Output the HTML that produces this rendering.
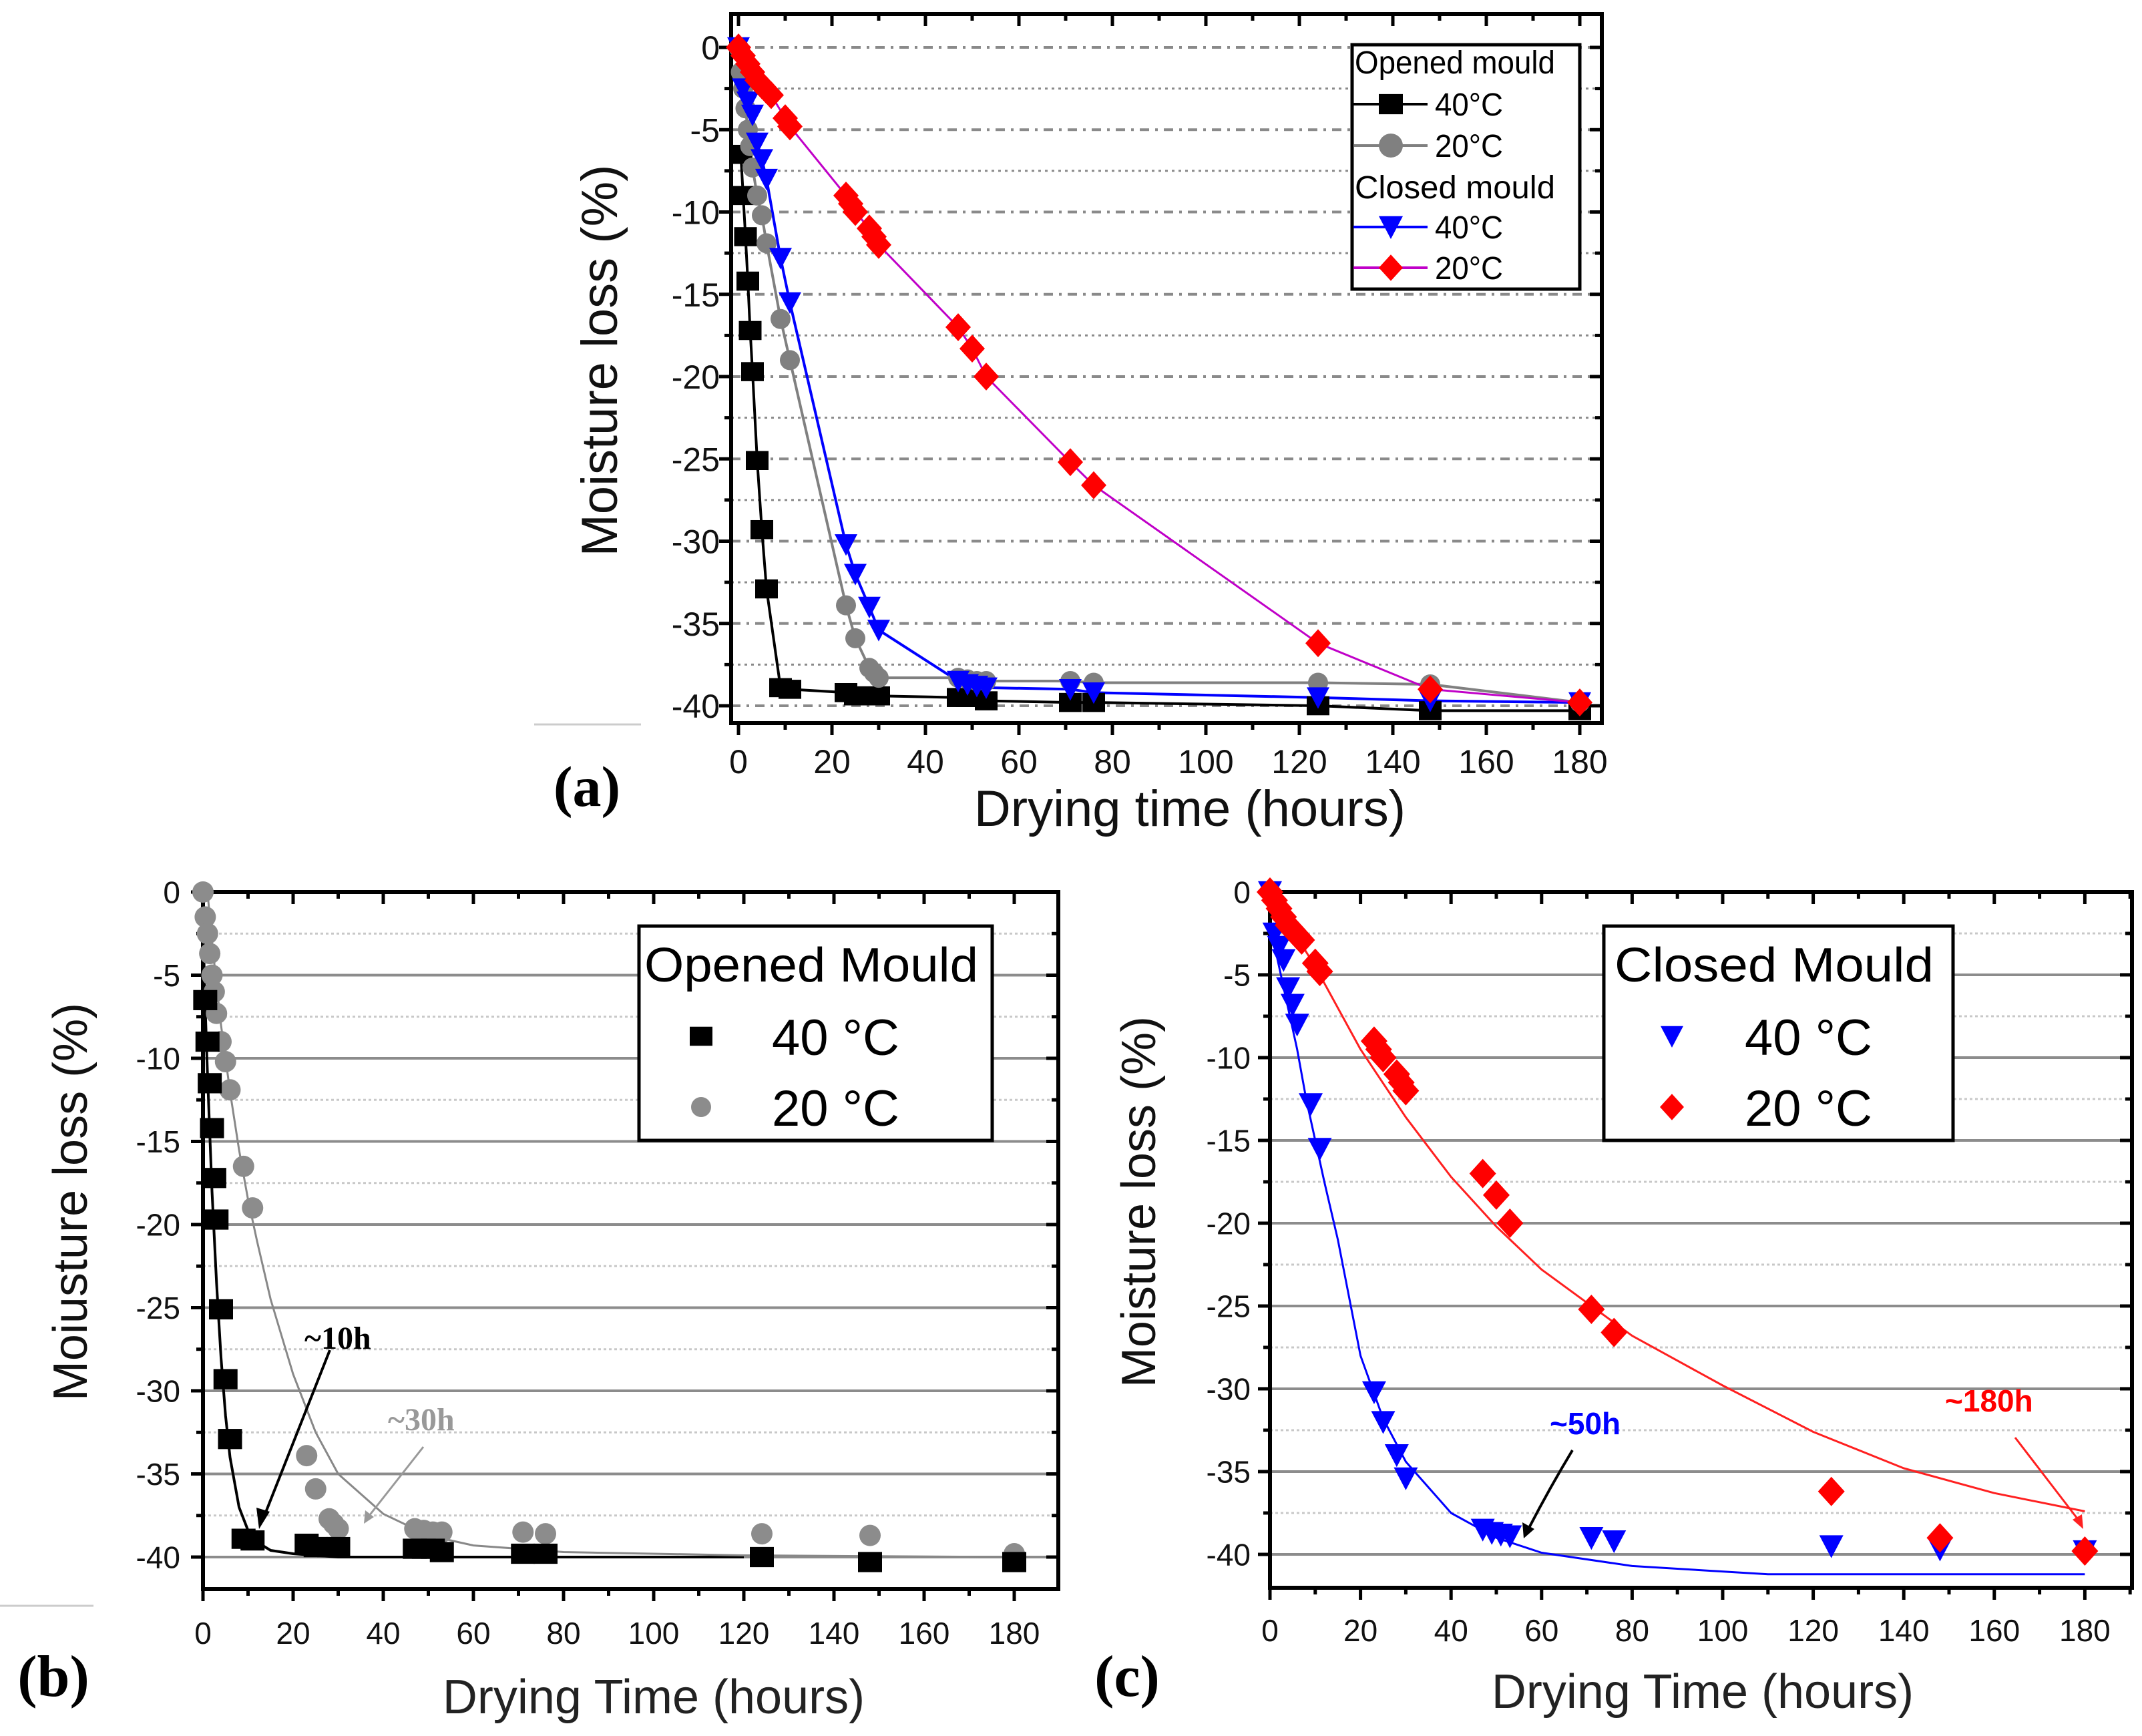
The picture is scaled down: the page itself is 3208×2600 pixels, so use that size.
<!DOCTYPE html>
<html><head><meta charset="utf-8"><style>
html,body{margin:0;padding:0;background:#fff}
svg{display:block}
text{font-family:"Liberation Sans",sans-serif}
text.serif{font-family:"Liberation Serif",serif}
</style></head><body>
<svg id="fig" xmlns="http://www.w3.org/2000/svg" width="3208" height="2600" viewBox="0 0 3208 2600">
<rect width="3208" height="2600" fill="#fff"/>
<g id="layer"></g>
</svg>
<script>
// ---- data ----
const openX40 = [0.5,1,1.5,2,2.5,3,4,5,6,9,11,23,25,28,30,47,49,51,53,71,76,124,148,180];
const openY40 = [-6.5,-9,-11.5,-14.2,-17.2,-19.7,-25.1,-29.3,-32.9,-38.9,-39,-39.2,-39.4,-39.4,-39.4,-39.5,-39.5,-39.5,-39.7,-39.8,-39.8,-40,-40.3,-40.3];
const openX20 = [0,0.5,1,1.5,2,2.5,3,4,5,6,9,11,23,25,28,29,30,47,49,51,53,71,76,124,148,180];
const openY20 = [0,-1.5,-2.5,-3.7,-5,-6,-7.3,-9,-10.2,-11.9,-16.5,-19,-33.9,-35.9,-37.7,-38,-38.3,-38.3,-38.4,-38.5,-38.5,-38.5,-38.6,-38.6,-38.7,-39.8];
const closedX40 = [0,1,2,3,4,5,6,9,11,23,25,28,30,47,49,51,53,71,76,124,148,180];
const closedY40 = [0,-2.5,-3.3,-4.1,-5.8,-6.8,-8,-12.8,-15.5,-30.2,-32,-34,-35.4,-38.5,-38.7,-38.8,-38.9,-39,-39.2,-39.5,-39.7,-39.8];
const closedX20 = [0,1,2,3,4,5,6,7,10,11,23,24,25,28,29,30,47,50,53,71,76,124,148,180];
const closedY20 = [0,-0.5,-1,-1.5,-2,-2.3,-2.6,-2.9,-4.3,-4.8,-9,-9.5,-10,-11,-11.5,-12,-17,-18.3,-20,-25.2,-26.6,-36.2,-39,-39.8];
// fitted curves (b) and (c), sampled from figure
const fitOpen40X = [0,0.5,1,2,3,4,5,6,8,10,12,15,20,30,120];
const fitOpen40Y = [-2,-7,-11,-18,-23.5,-28,-31.5,-34,-37,-38.4,-39.1,-39.6,-39.8,-40,-40];
const fitOpen20X = [1,2,4,6,8,10,12,15,20,25,30,40,50,60,80,120,180];
const fitOpen20Y = [0,-3,-8,-12,-15.5,-18.5,-21,-24.5,-29,-32.5,-35,-37.4,-38.7,-39.3,-39.7,-39.9,-40];
const fitClosed40X = [0,2,4,6,8,10,12,15,20,25,30,40,50,60,80,110,180];
const fitClosed40Y = [-2,-4.5,-7,-9.5,-12.5,-15,-17.5,-21,-28,-31.8,-34.4,-37.5,-39,-39.9,-40.7,-41.2,-41.2];
const fitClosed20X = [0,5,10,20,30,40,50,60,80,100,120,140,160,180];
const fitClosed20Y = [0,-2.3,-4.5,-9.5,-13.6,-17.2,-20.2,-22.8,-26.8,-29.8,-32.6,-34.8,-36.3,-37.4];
const xTicks = [0,20,40,60,80,100,120,140,160,180];
const yTicks = [0,-5,-10,-15,-20,-25,-30,-35,-40];

const NS="http://www.w3.org/2000/svg";
const layer=document.getElementById('layer');
function el(tag,attrs,parent,txt){const e=document.createElementNS(NS,tag);for(const k in attrs)e.setAttribute(k,attrs[k]);if(txt!==undefined)e.textContent=txt;(parent||layer).appendChild(e);return e;}

function makeAxes(p){
  p.sx=v=>p.x0px+v*p.xpx;
  p.sy=v=>p.y0px-v*p.ypx;
  return p;
}
function marker(g,shape,x,y,s,color){
  let m;
  if(shape==='sq') m=el('rect',{x:x-s/2,y:y-s*0.42,width:s,height:s*0.84,fill:color},g);
  else if(shape==='ci') m=el('circle',{cx:x,cy:y,r:s/2,fill:color},g);
  else if(shape==='tri') m=el('polygon',{points:`${x-s/2},${y-s*0.45} ${x+s/2},${y-s*0.45} ${x},${y+s*0.5}`,fill:color},g);
  else m=el('polygon',{points:`${x},${y-s*0.55} ${x+s*0.5},${y} ${x},${y+s*0.55} ${x-s*0.5},${y}`,fill:color},g);
  return m;
}
function series(ax,g,xs,ys,shape,s,color){
  for(let i=0;i<xs.length;i++){
    const m=marker(g,shape,ax.sx(xs[i]),ax.sy(ys[i]),s,color);
    
    
  }
}
function line(ax,g,xs,ys,color,w){
  const pts=xs.map((x,i)=>ax.sx(x).toFixed(1)+','+ax.sy(ys[i]).toFixed(1)).join(' ');
  return el('polyline',{points:pts,fill:'none',stroke:color,'stroke-width':w,'stroke-linejoin':'round'},g);
}
function frame(ax,g,style,ylabX,xlabY,fs){
  const [l,t,r,b]=ax.frame;
  for(let v=0;v>=-42.5;v-=2.5){
    const y=ax.sy(v); if(y<t||y>b) continue;
    const major=(v%5===0);
    let gl;
    if(style==='a') gl=el('line',{x1:l,x2:r,y1:y,y2:y,stroke:'#8a8a8a','stroke-width':major?4:3,'stroke-dasharray':major?'14,9,4,9':'4,6'},g);
    else gl=el('line',{x1:l,x2:r,y1:y,y2:y,stroke:major?'#8c8c8c':'#c8c8c8','stroke-width':major?4:3,'stroke-dasharray':major?'none':'4,4'},g);
    
    
  }
  const f=el('rect',{x:l,y:t,width:r-l,height:b-t,fill:'none',stroke:'#000','stroke-width':6},g);
  
  
  for(let v=0;v<=190;v+=10){
    const x=ax.sx(v); if(x>r) continue;
    const len=v%20===0?18:10;
    el('line',{x1:x,x2:x,y1:b,y2:b+len,stroke:'#000','stroke-width':5},g);
    el('line',{x1:x,x2:x,y1:t,y2:t+len,stroke:'#000','stroke-width':5},g);
  }
  for(let v=0;v>=-42.5;v-=2.5){
    const y=ax.sy(v); if(y<t-1||y>b) continue;
    const len=v%5===0?18:10;
    el('line',{x1:l-len,x2:l,y1:y,y2:y,stroke:'#000','stroke-width':5},g);
    el('line',{x1:r-len,x2:r,y1:y,y2:y,stroke:'#000','stroke-width':5},g);
  }
  xTicks.forEach(v=>{
    const t2=el('text',{x:ax.sx(v),y:xlabY,'font-size':fs,'text-anchor':'middle',fill:'#111'},g,String(v));
    
    
  });
  yTicks.forEach(v=>{
    const t2=el('text',{x:ylabX,y:ax.sy(v)+fs*0.36,'font-size':fs,'text-anchor':'end',fill:'#111'},g,String(v));
    
    
  });
}

// ===== Panel (a) =====
const A=makeAxes({x0px:1106,xpx:7.0,y0px:71,ypx:24.65,frame:[1095,21,2399,1083]});
const ga=el('g',{});


frame(A,ga,'a',1078,1158,50);
line(A,ga,openX40,openY40,'#000',4);
line(A,ga,openX20,openY20,'#808080',4);
line(A,ga,closedX40,closedY40,'#0000ff',4);
line(A,ga,closedX20,closedY20,'#c000c8',3);
series(A,ga,openX40,openY40,'sq',34,'#000');
series(A,ga,openX20,openY20,'ci',30,'#808080');
series(A,ga,closedX40,closedY40,'tri',34,'#0000ff');
series(A,ga,closedX20,closedY20,'dia',38,'#ff0000');
const la=el('g',{});


el('rect',{x:2025,y:67,width:341,height:366,fill:'#fff',stroke:'#000','stroke-width':5},la);
const legA=[['Opened mould',93,null],['40°C',156,['sq','#000','#000']],['20°C',218,['ci','#808080','#808080']],['Closed mould',280,null],['40°C',340,['tri','#0000ff','#0000ff']],['20°C',401,['dia','#ff0000','#c000c8']]];
legA.forEach(r=>{
  if(!r[2]){el('text',{x:2029,y:r[1]+17,'font-size':48,textLength:300,lengthAdjust:'spacingAndGlyphs'},la,r[0]);}
  else{
    el('line',{x1:2027,x2:2138,y1:r[1],y2:r[1],stroke:r[2][2],'stroke-width':4},la);
    marker(la,r[2][0],2083,r[1],36,r[2][1]);
    el('text',{x:2149,y:r[1]+17,'font-size':48,textLength:102,lengthAdjust:'spacingAndGlyphs'},la,r[0]);
  }
});
let t;
t=el('text',{x:924,y:540,'font-size':76,'text-anchor':'middle',transform:'rotate(-90 924 540)',fill:'#111'},ga,'Moisture loss (%)');

t=el('text',{x:1782,y:1237,'font-size':76,'text-anchor':'middle',fill:'#111'},ga,'Drying time (hours)');

t=el('text',{x:879,y:1207,'font-size':86,'font-weight':'bold','text-anchor':'middle',class:'serif'},ga,'(a)');

el('line',{x1:800,x2:960,y1:1085,y2:1085,stroke:'#ccc','stroke-width':3},ga);

// ===== Panel (b) =====
const B=makeAxes({x0px:304,xpx:6.75,y0px:1336,ypx:24.9,frame:[304,1336,1585,2380]});
const gb=el('g',{});


frame(B,gb,'b',270,2462,46);
line(B,gb,fitOpen40X,fitOpen40Y,'#000',4);
line(B,gb,fitOpen20X,fitOpen20Y,'#888',3);
series(B,gb,openX20,openY20,'ci',32,'#8c8c8c');
series(B,gb,openX40,openY40,'sq',36,'#000');
const lb=el('g',{});


el('rect',{x:957,y:1387,width:529,height:321,fill:'#fff',stroke:'#000','stroke-width':5},lb);
el('text',{x:965,y:1470,'font-size':72,textLength:500,lengthAdjust:'spacingAndGlyphs'},lb,'Opened Mould');
marker(lb,'sq',1050,1552,34,'#000');
el('text',{x:1156,y:1580,'font-size':76},lb,'40 °C');
marker(lb,'ci',1050,1658,30,'#8c8c8c');
el('text',{x:1156,y:1686,'font-size':76},lb,'20 °C');
t=el('text',{x:130,y:1800,'font-size':72,'text-anchor':'middle',transform:'rotate(-90 130 1800)',fill:'#111'},gb,'Moiusture loss (%)');

t=el('text',{x:979,y:2566,'font-size':72,'text-anchor':'middle',fill:'#222'},gb,'Drying Time (hours)');

t=el('text',{x:80,y:2540,'font-size':88,'font-weight':'bold','text-anchor':'middle',class:'serif'},gb,'(b)');

el('line',{x1:0,x2:140,y1:2405,y2:2405,stroke:'#ccc','stroke-width':3},gb);
t=el('text',{x:456,y:2020,'font-size':48,'font-weight':'bold',class:'serif'},gb,'~10h');

el('line',{x1:494,y1:2022,x2:396,y2:2270,stroke:'#000','stroke-width':4},gb);
el('polygon',{points:'388,2290 384,2258 404,2264',fill:'#000'},gb);
t=el('text',{x:581,y:2142,'font-size':48,'font-weight':'bold',class:'serif',fill:'#999'},gb,'~30h');

el('line',{x1:634,y1:2167,x2:549,y2:2275,stroke:'#999','stroke-width':3},gb);
el('polygon',{points:'545,2282 547,2262 560,2272',fill:'#999'},gb);

// ===== Panel (c) =====
const C=makeAxes({x0px:1902,xpx:6.78,y0px:1336,ypx:24.8,frame:[1902,1336,3193,2378]});
const gc=el('g',{});


frame(C,gc,'c',1873,2458,46);
line(C,gc,fitClosed40X,fitClosed40Y,'#0000ff',3);
line(C,gc,fitClosed20X,fitClosed20Y,'#ff2020',3);
series(C,gc,closedX40,closedY40,'tri',36,'#0000ff');
series(C,gc,closedX20,closedY20,'dia',40,'#ff0000');
const lc=el('g',{});


el('rect',{x:2402,y:1387,width:523,height:321,fill:'#fff',stroke:'#000','stroke-width':5},lc);
el('text',{x:2418,y:1470,'font-size':72,textLength:478,lengthAdjust:'spacingAndGlyphs'},lc,'Closed Mould');
marker(lc,'tri',2504,1552,34,'#0000ff');
el('text',{x:2613,y:1580,'font-size':76},lc,'40 °C');
marker(lc,'dia',2504,1658,36,'#ff0000');
el('text',{x:2613,y:1686,'font-size':76},lc,'20 °C');
t=el('text',{x:1730,y:1800,'font-size':72,'text-anchor':'middle',transform:'rotate(-90 1730 1800)',fill:'#111'},gc,'Moisture loss (%)');

t=el('text',{x:2550,y:2558,'font-size':72,'text-anchor':'middle',fill:'#222'},gc,'Drying Time (hours)');

t=el('text',{x:1688,y:2540,'font-size':88,'font-weight':'bold','text-anchor':'middle',class:'serif'},gc,'(c)');

t=el('text',{x:2321,y:2148,'font-size':46,'font-weight':'bold',fill:'#0000ff'},gc,'~50h');

el('path',{d:'M2355,2172 Q2320,2230 2288,2292',fill:'none',stroke:'#000','stroke-width':4},gc);
el('polygon',{points:'2282,2304 2280,2280 2298,2290',fill:'#000'},gc);
t=el('text',{x:2913,y:2114,'font-size':46,'font-weight':'bold',fill:'#ff0000'},gc,'~180h');

el('line',{x1:3018,y1:2153,x2:3114,y2:2278,stroke:'#ff2020','stroke-width':3},gc);
el('polygon',{points:'3120,2290 3104,2276 3118,2268',fill:'#ff2020'},gc);
</script>
</body></html>
